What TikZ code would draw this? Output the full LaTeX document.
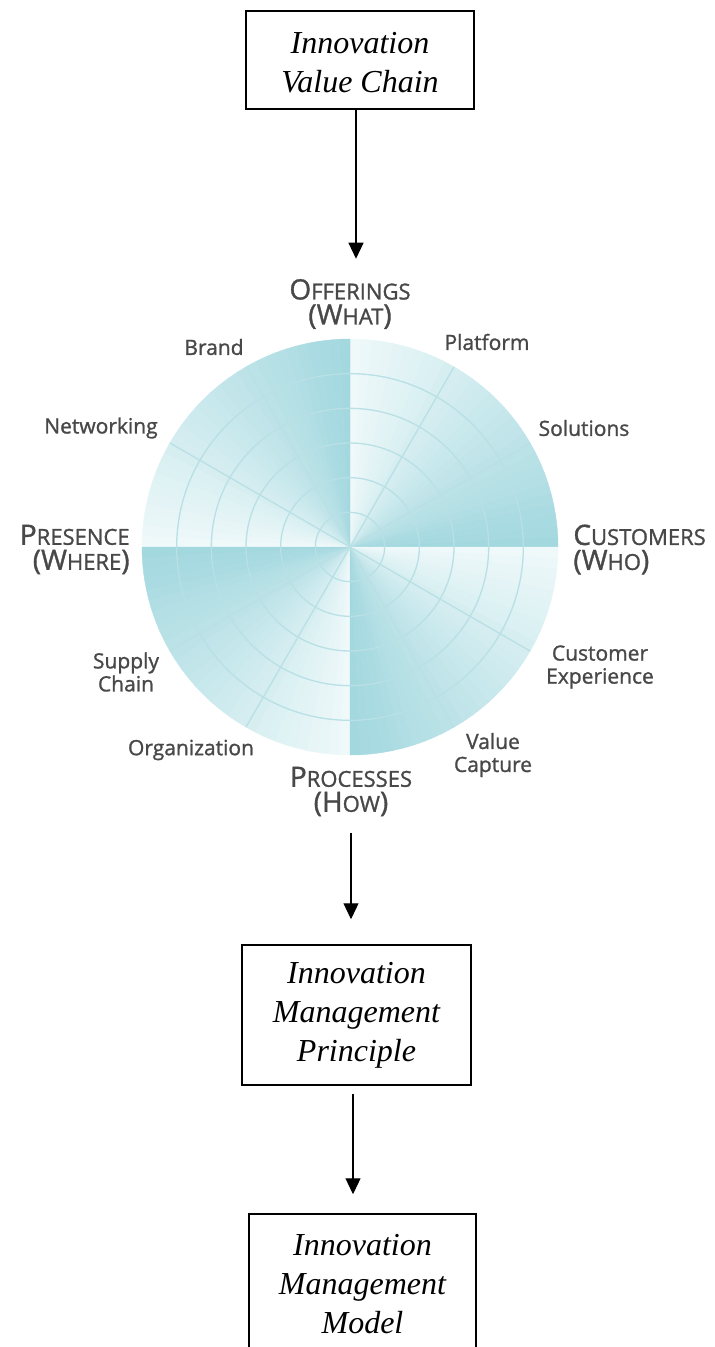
\documentclass[tikz,border=0pt]{standalone}
\usepackage{fontspec}
\usepackage{tikz}
\usetikzlibrary{calc}
\usetikzlibrary{arrows.meta}
\usetikzlibrary{positioning}

\newfontfamily\boxfont{Liberation Serif}
\newfontfamily\wheelfont{Open Sans}[FakeBold=1.2]

\definecolor{wheeldark}{RGB}{163,216,223}
\definecolor{wheellight}{RGB}{242,250,251}
\definecolor{wheelline}{RGB}{184,224,229}
\definecolor{labelgrey}{RGB}{72,72,72}

\newcommand{\scbig}[1]{{\fontsize{14}{12.5}\selectfont #1}}
\newcommand{\scsmall}[1]{{\fontsize{11}{12.5}\selectfont #1}}

\begin{document}
\begin{tikzpicture}[x = 0.5pt, y = 0.5pt,
  stagebox/.style = {rectangle, draw = black, line width = 0.75pt, align = center, inner sep = 0pt,
    font = \boxfont\itshape\fontsize{16}{19.5}\selectfont},
  arr/.style = {-{Triangle[width = 7.5pt, length = 8pt]}, line width = 0.6pt},
  tag/.style = {inner sep = 0pt, align = center, text = labelgrey,
    font = \wheelfont\fontsize{10.5}{11.5}\selectfont},
  axis/.style = {tag, font = \wheelfont\fontsize{11}{12.5}\selectfont},
  ring/.style = {draw = wheelline, line width = 0.65pt}]
\useasboundingbox (0,0) rectangle (715,-1347);
\clip (0,0) rectangle (715,-1347);

% the wheel: each quarter fades from dark to light going round
\begin{scope}[shift = {(350,-547)}]
  \foreach \q in {0,90,180,270}
    \foreach \s in {0,...,29}{
      \pgfmathsetmacro{\tone}{100-\s*3.3}
      \filldraw[fill = wheeldark!\tone!wheellight, draw = wheeldark!\tone!wheellight, line width = 0.2pt]
        (0,0) -- (\q+\s*3:208) arc[start angle = \q+\s*3, delta angle = 3, radius = 208] -- cycle;
    }
  \foreach \k in {1,...,5}
    \draw[ring] (0,0) circle ({\k*208/6});
  \foreach \a in {30,60,120,150,210,240,300,330}
    \draw[ring] (0,0) -- (\a:208);
\end{scope}

\draw (350,-304) node[axis, name = what]{\scbig{O}\scsmall{FFERINGS}\\\scbig{(W}\scsmall{HAT}\scbig{)}};
\draw (130,-549.5) node[axis, anchor = east, align = right, name = where]{\scbig{P}\scsmall{RESENCE}\\\scbig{(W}\scsmall{HERE}\scbig{)}};
\draw (573,-549.5) node[axis, anchor = west, align = left, name = who]{\scbig{C}\scsmall{USTOMERS}\\\scbig{(W}\scsmall{HO}\scbig{)}};
\draw (351,-791.5) node[axis, name = how]{\scbig{P}\scsmall{ROCESSES}\\\scbig{(H}\scsmall{OW}\scbig{)}};

\draw (214,-347) node[tag, name = brand]{Brand};
\draw (487,-342) node[tag, name = platform]{Platform};
\draw (101,-428) node[tag, name = networking]{Networking};
\draw (584,-428) node[tag, name = solutions]{Solutions};
\draw (126,-672) node[tag, name = supply]{Supply\\Chain};
\draw (600,-667) node[tag, name = experience]{Customer\\Experience};
\draw (191,-750) node[tag, name = organization]{Organization};
\draw (493,-755) node[tag, name = capture]{Value\\Capture};

\draw (360,-60) node[stagebox, minimum width = 114pt, minimum height = 49pt, name = vc]{\rule{0pt}{13pt}Innovation\\Value Chain};
\draw (356.5,-1015) node[stagebox, minimum width = 114.5pt, minimum height = 70pt, name = imp]{Innovation\\Management\\Principle};
\draw (362.5,-1284) node[stagebox, minimum width = 113.5pt, minimum height = 70pt, name = imm]{Innovation\\Management\\Model};

\draw[arr] ([xshift = -2pt]vc.south) -- ([xshift = -2pt, yshift = 10pt]vc.south |- what.north);
\draw[arr] ([yshift = -8pt]how.south) -- ([yshift = 12.5pt]how.south |- imp.north);
\draw[arr] ([xshift = 1pt, yshift = -4pt]how |- imp.south) -- ([xshift = 1pt, yshift = 9.5pt]how |- imm.north);
\end{tikzpicture}
\end{document}
